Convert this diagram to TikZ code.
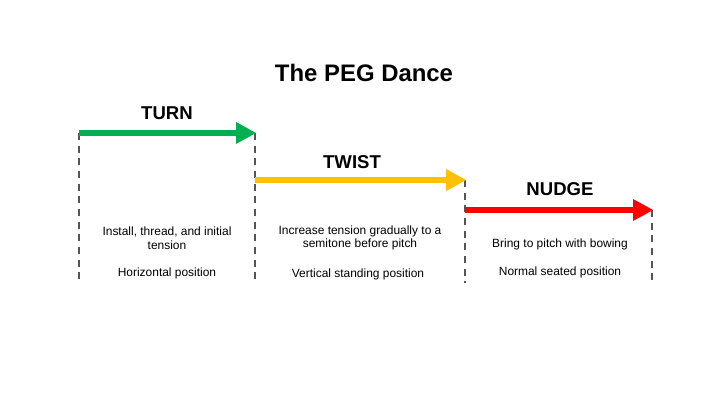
\documentclass[tikz,border=0pt]{standalone}
\usepackage{fontspec}
\setmainfont{Liberation Sans}
\usepackage{xcolor}
\definecolor{TurnGreen}{HTML}{00B050}
\definecolor{TwistAmber}{HTML}{FFC000}
\definecolor{NudgeRed}{HTML}{FF0000}
\definecolor{RuleGray}{HTML}{555555}
\usetikzlibrary{arrows.meta,positioning}

\begin{document}
\begin{tikzpicture}[x=0.025cm, y=-0.025cm, >=Triangle,
    every node/.style={font=\fontsize{8.5}{9.8}\selectfont, align=center},
    stepname/.style={font=\fontsize{13.2}{15}\selectfont\bfseries},
    steprule/.style={draw=RuleGray, line width=1.1pt, dash pattern=on 5pt off 4pt},
    steparrow/.style={line width=4.6pt, -{Triangle[length=14.5pt, width=14.5pt]}, shorten >=-1pt}]
  \useasboundingbox (0,0) rectangle (720,405);
  \node[font=\fontsize{17}{20}\selectfont\bfseries] (title) at (364,73) {The PEG Dance};
  % step edges
  \coordinate (turnA) at (79,133);   \coordinate (turnB) at (255,133);
  \coordinate (twistA) at (255,180); \coordinate (twistB) at (465,180);
  \coordinate (nudgeA) at (465,210); \coordinate (nudgeB) at (652,210);
  \coordinate (baseA) at (79,283);  \coordinate (baseB) at (255,283);
  \coordinate (baseC) at (465,283); \coordinate (baseD) at (652,280);
  \draw[steprule] (turnA) -- (baseA);
  \draw[steprule] (turnB) -- (baseB);
  \draw[steprule] (twistB) -- (baseC);
  \draw[steprule] (nudgeB) -- (baseD);
  \draw[steparrow, TurnGreen] (turnA) -- (turnB);
  \draw[steparrow, TwistAmber] (twistA) -- (twistB);
  \draw[steparrow, NudgeRed] (nudgeA) -- (nudgeB);
  \node[stepname] (turn) at (167,113) {TURN};
  \node[stepname] (twist) at (352,162) {TWIST};
  \node[stepname] (nudge) at (560,189) {NUDGE};
  \node (turnwhat) at (167,238) {Install, thread, and initial\\tension};
  \node (turnpos) at (167,273) {Horizontal position};
  \node (twistwhat) at (360,238) {Increase tension gradually to a\\semitone before pitch};
  \node (twistpos) at (358,274) {Vertical standing position};
  \node (nudgewhat) at (560,244) {Bring to pitch with bowing};
  \node (nudgepos) at (560,272) {Normal seated position};
\end{tikzpicture}
\end{document}
